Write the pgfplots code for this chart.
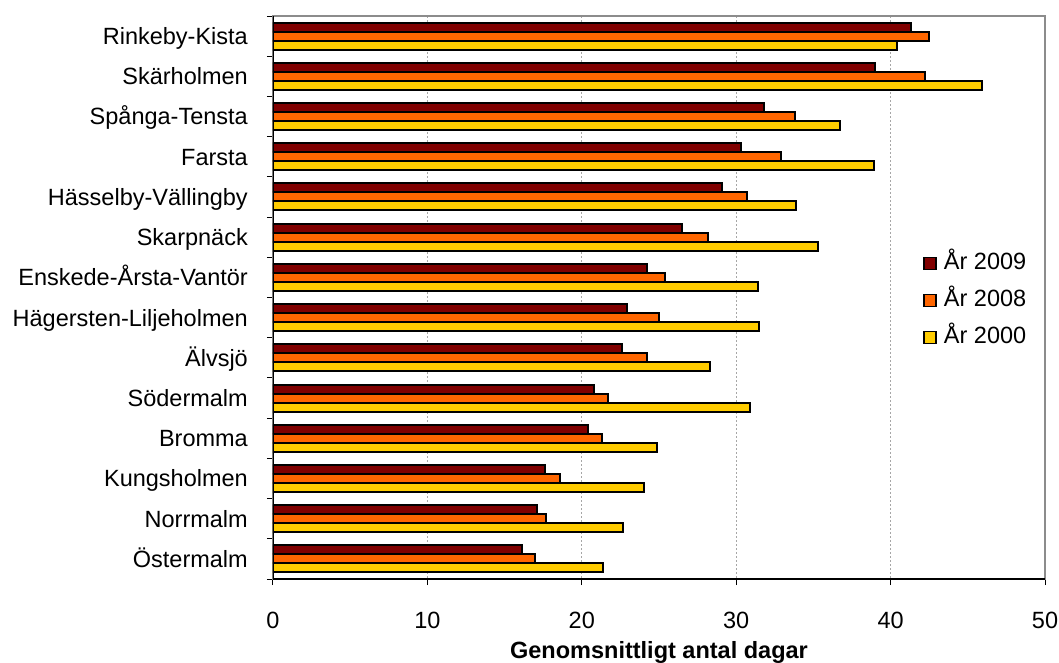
\documentclass[border=0pt]{standalone}
\usepackage{fontspec}
\setmainfont{Liberation Sans}
\usepackage{pgfplots}
\pgfplotsset{compat=1.18}
\usepackage{pgfplotstable}
\definecolor{c2009}{HTML}{800000}
\definecolor{c2008}{HTML}{FF6600}
\definecolor{c2000}{HTML}{FFCC00}
\definecolor{frame}{HTML}{8C8C8C}

\pgfplotstableread{
idx y2009 y2008 y2000
0  41.3 42.5 40.4
1  39.0 42.2 45.9
2  31.8 33.8 36.7
3  30.3 32.9 38.9
4  29.1 30.7 33.9
5  26.5 28.2 35.3
6  24.2 25.4 31.4
7  22.9 25.0 31.5
8  22.6 24.2 28.3
9  20.8 21.7 30.9
10 20.4 21.3 24.9
11 17.6 18.6 24.0
12 17.1 17.7 22.7
13 16.1 17.0 21.4
}\data

\begin{document}
\begin{tikzpicture}[font=\fontsize{23.5bp}{28bp}\selectfont]
\useasboundingbox (-273bp,-84bp) rectangle (786bp,579bp);
\begin{axis}[
  at={(0,0)}, anchor=south west,
  scale only axis, width=772bp, height=563bp,
  xbar, bar width=9bp,
  xmin=0, xmax=50, ymin=-0.5, ymax=13.5, y dir=reverse,
  xtick={0,10,...,50},
  ytick={-0.5,0.5,...,13.5},
  yticklabels={},
  extra y ticks={0,1,...,13},
  extra y tick labels={Rinkeby-Kista,Skärholmen,Spånga-Tensta,Farsta,Hässelby-Vällingby,Skarpnäck,Enskede-Årsta-Vantör,Hägersten-Liljeholmen,Älvsjö,Södermalm,Bromma,Kungsholmen,Norrmalm,Östermalm},
  extra y tick style={tick style={draw=none}},
  xtick pos=bottom, ytick pos=left,
  tick align=outside,
  major tick length=6bp,
  tick style={black, line width=1bp},
  /pgf/number format/assume math mode=true,
  yticklabel style={anchor=base east, inner sep=0pt, xshift=-19bp, yshift=-8.4bp},
  xticklabel style={anchor=base, inner sep=0pt, yshift=-43bp},
  xlabel={\textbf{Genomsnittligt antal dagar}},
  x label style={at={(axis description cs:0.5,0)}, anchor=base, yshift=-79bp},
  xmajorgrids,
  major grid style={draw=gray!70, line width=0.7bp, dash pattern=on 2bp off 2bp},
  axis line style={draw=frame, line width=2bp},
  legend cell align=left,
  legend style={at={(axis description cs:0.838,0.583)}, anchor=north west,
    draw=none, fill=none, row sep=16bp, column sep=5bp,
    nodes={inner ysep=0pt, inner xsep=2bp, text height=17bp, text depth=4bp}},
  legend image code/.code={\draw[#1, line width=1.8bp] (0bp,-6bp) rectangle (12bp,6bp);},
]
\addplot[fill=c2009, draw=black, line width=2bp, bar shift=9bp] table[x=y2009, y=idx] {\data};
\addplot[fill=c2008, draw=black, line width=2bp, bar shift=0bp] table[x=y2008, y=idx] {\data};
\addplot[fill=c2000, draw=black, line width=2bp, bar shift=-9bp] table[x=y2000, y=idx] {\data};
\legend{År 2009, År 2008, År 2000}
\draw[black, line width=2bp] (axis description cs:0,1) -- (axis description cs:0,0) -- (axis description cs:1,0);
\end{axis}
\end{tikzpicture}
\end{document}
